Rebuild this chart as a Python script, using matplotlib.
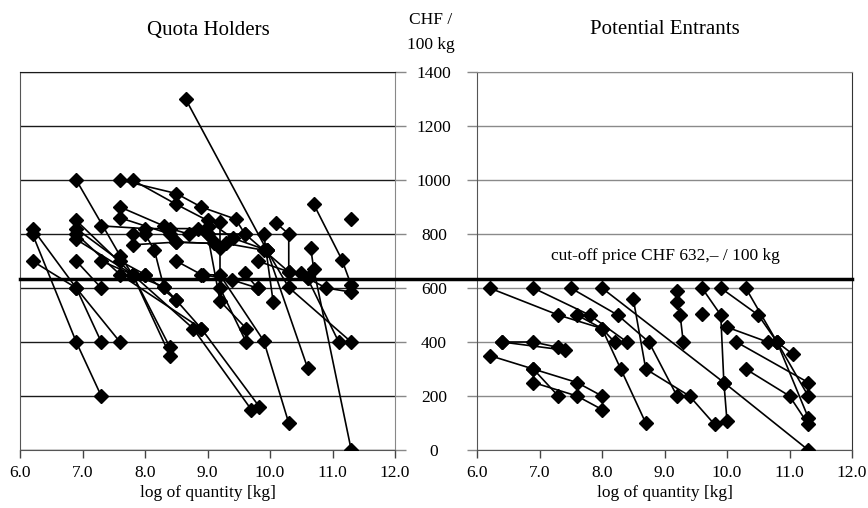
import matplotlib
matplotlib.use("Agg")
import matplotlib.pyplot as plt
import matplotlib.transforms as mtransforms

plt.rcParams['font.family'] = ['Liberation Serif', 'DejaVu Serif']

# bid curves, quota holders: log quantity and price (CHF / 100 kg)
quota_x = [
    [6.2, 6.9, 7.6], [6.2, 6.9, 7.3], [6.2, 6.9, 7.3],
    [6.9, 7.6, 7.8, 8.4], [6.9, 7.8, 8.4], [6.9, 7.6, 8.0],
    [6.9, 7.8, 8.77, 9.7], [6.9, 7.6, 8.9, 9.83], [6.9, 7.3],
    [7.3, 8.0, 8.85, 9.0, 9.6], [7.3, 7.8, 8.3],
    [7.6, 8.5, 8.9, 9.45, 9.6, 10.3], [7.8, 8.5, 9.0, 9.4, 9.95],
    [7.6, 8.3, 8.4, 8.7, 9.0], [7.6, 8.4, 8.5, 9.1, 9.2],
    [7.8, 8.0, 8.15, 8.3, 8.5], [7.8, 8.5, 9.12, 9.3, 9.9],
    [8.0, 8.5, 8.9], [8.5, 8.9, 9.2, 9.9, 10.3], [9.2, 9.2, 9.62],
    [9.0, 9.2, 9.62], [8.65, 9.95, 10.6], [9.6, 9.8], [8.92, 9.39, 9.8],
    [9.9, 10.05], [10.1, 10.3, 10.3, 10.5, 10.6, 10.9, 11.3],
    [9.95, 10.3, 11.3], [10.65, 10.7, 11.3], [10.7, 11.15, 11.3],
    [9.8, 10.6, 11.1], [11.3],
]
quota_price = [
    [820, 600, 400], [800, 400, 200], [700, 600, 400],
    [1000, 720, 650, 380], [850, 650, 350], [820, 700, 650],
    [780, 650, 450, 150], [800, 650, 450, 160], [700, 600],
    [830, 820, 820, 800, 800], [700, 650, 605],
    [1000, 950, 900, 855, 800, 660], [1000, 910, 850, 785, 740],
    [900, 830, 820, 800, 827], [860, 800, 770, 765, 747],
    [800, 800, 740, 605, 555], [760, 770, 765, 765, 740],
    [650, 555, 450], [700, 650, 648, 404, 100], [845, 600, 399],
    [800, 552, 450], [1300, 740, 305], [654, 600], [650, 630, 600],
    [800, 550], [840, 800, 660, 655, 636, 600, 585],
    [740, 602, 400], [750, 670, 0], [910, 705, 610],
    [700, 636, 400], [855],
]

# bid curves, potential entrants
entrant_x = [
    [6.2, 7.3, 8.0, 8.2], [6.9, 7.8, 8.4], [7.5, 8.25, 8.75, 9.2],
    [8.0, 9.95, 11.3], [7.6, 8.0, 8.3, 8.7], [6.4, 6.9, 7.3],
    [6.4, 7.4], [6.2, 6.9, 7.6, 8.0], [6.9, 7.3], [6.9, 7.6, 8.0],
    [8.5, 8.7, 9.4, 9.8], [9.2, 9.2, 9.25, 9.3], [9.6, 9.9, 9.95, 10.0],
    [9.9, 10.5, 10.8, 11.3], [10.3, 10.8, 11.3],
    [10.0, 10.65, 10.8, 11.05], [10.15, 11.3], [10.3, 11.0, 11.3],
    [9.6],
]
entrant_price = [
    [600, 500, 450, 400], [600, 500, 400], [600, 500, 400, 200],
    [600, 250, 0], [500, 450, 300, 100], [400, 400, 380],
    [400, 370], [350, 300, 250, 200], [300, 200], [250, 200, 150],
    [560, 300, 200, 95], [590, 550, 500, 400], [600, 500, 250, 107],
    [600, 500, 400, 200], [600, 400, 120],
    [455, 400, 400, 355], [400, 250], [300, 200, 95],
    [505],
]

cutoff = 632
yticks = [0, 200, 400, 600, 800, 1000, 1200, 1400]
xticks = [6, 7, 8, 9, 10, 11, 12]

fig = plt.figure(figsize=(8.68, 5.08), dpi=100)
ax1 = fig.add_axes([20 / 868, 58 / 508, 375 / 868, 378 / 508])
ax2 = fig.add_axes([477 / 868, 58 / 508, 375 / 868, 378 / 508])

for ax, xs, ps, gcol in [(ax1, quota_x, quota_price, '#1a1a1a'),
                         (ax2, entrant_x, entrant_price, '#8a8a8a')]:
    for x, p in zip(xs, ps):
        ax.plot(x, p, color='black', lw=1.2, marker='D', ms=7,
                mfc='black', mec='black', zorder=3)
    ax.set_xlim(6, 12)
    ax.set_ylim(0, 1400)
    ax.set_xticks(xticks)
    ax.set_xticklabels([f"{t:.1f}" for t in xticks], fontsize=12.5)
    ax.set_yticks(yticks)
    ax.grid(axis='y', color=gcol, lw=1.0)
    ax.set_axisbelow(True)
    ax.tick_params(axis='x', direction='out', length=6, width=1,
                   color='#444444', pad=5)
    ax.set_xlabel('log of quantity [kg]', fontsize=12.5, labelpad=3)
    ax.spines['top'].set_color(gcol)
    for s in ['left', 'right', 'bottom']:
        ax.spines[s].set_color('#555555')

# shared price axis sits between the panels
ax1.yaxis.tick_right()
ax1.tick_params(axis='y', direction='out', length=8, width=1, color='#888888',
                pad=20, labelsize=12.5)
for lbl in ax1.get_yticklabels():
    lbl.set_horizontalalignment('center')
ax1.spines['right'].set_color('#888888')

ax2.tick_params(axis='y', direction='out', length=7, width=1,
                color='#888888', labelleft=False)
ax2.spines['right'].set_color('#333333')

# cut-off price line across both panels
trans = mtransforms.blended_transform_factory(fig.transFigure, ax1.transData)
fig.add_artist(plt.Line2D([20 / 868, 852 / 868], [cutoff, cutoff],
                          transform=trans, color='black', lw=2.5, zorder=5))
ax2.text(9.02, 690, 'cut-off price CHF 632,– / 100 kg', fontsize=12.5,
         ha='center', va='bottom')

fig.text(208 / 868, 1 - 30 / 508, 'Quota Holders', fontsize=15,
         ha='center', va='center')
fig.text(665 / 868, 1 - 30 / 508, 'Potential Entrants', fontsize=15,
         ha='center', va='center')
fig.text(431 / 868, 1 - 20 / 508, 'CHF /', fontsize=12.5,
         ha='center', va='center')
fig.text(431 / 868, 1 - 45 / 508, '100 kg', fontsize=12.5,
         ha='center', va='center')

fig.savefig('out.png', dpi=100)
